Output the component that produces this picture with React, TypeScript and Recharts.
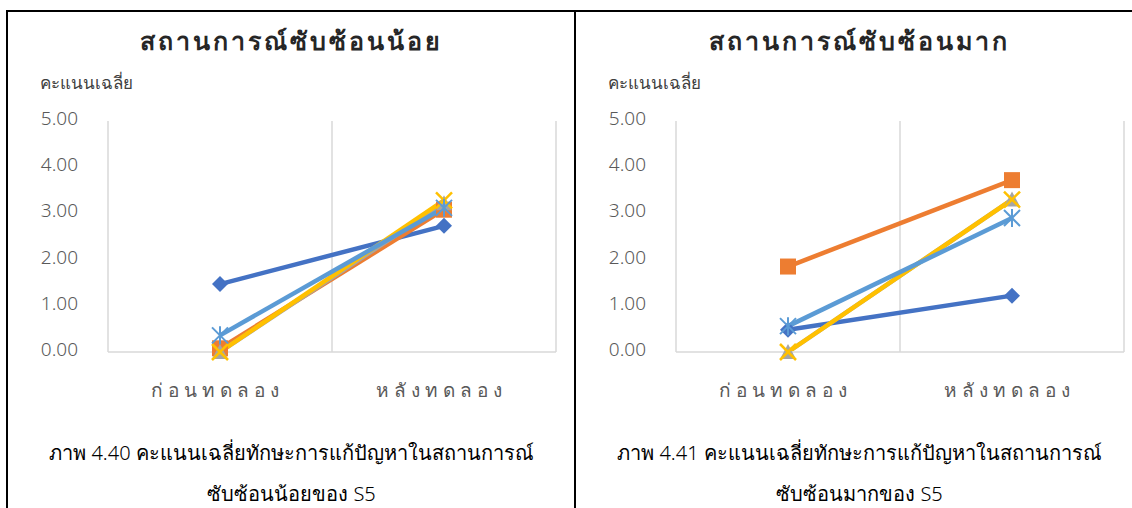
import { LineChart, Line, XAxis, YAxis, ReferenceLine } from 'recharts'

const categories = ['ก่อนทดลอง', 'หลังทดลอง']
const yTicks = [0, 1, 2, 3, 4, 5]

// สถานการณ์ซับซ้อนน้อย
const lowS1 = [1.47, 2.73]
const lowS2 = [0.08, 3.08]
const lowS3 = [0.0, 3.22]
const lowS4 = [0.0, 3.28]
const lowS5 = [0.36, 3.12]

// สถานการณ์ซับซ้อนมาก
const highS1 = [0.48, 1.22]
const highS2 = [1.85, 3.72]
const highS3 = [0.0, 3.3]
const highS4 = [0.0, 3.3]
const highS5 = [0.56, 2.9]

const colors = ['#4472C4', '#ED7D31', '#A5A5A5', '#FFC000', '#5B9BD5']
const shapes = ['diamond', 'square', 'triangle', 'x', 'star']

const FONT = "'Noto Sans', 'DejaVu Sans', sans-serif"

const Marker = ({ cx, cy, shape, color }: any) => {
  if (cx == null || cy == null) return null
  const r = 8
  if (shape === 'diamond')
    return <polygon points={`${cx},${cy - r} ${cx + r},${cy} ${cx},${cy + r} ${cx - r},${cy}`} fill={color} />
  if (shape === 'square')
    return <rect x={cx - r} y={cy - r} width={r * 2} height={r * 2} fill={color} />
  if (shape === 'triangle')
    return <polygon points={`${cx},${cy - r} ${cx + r},${cy + r - 1} ${cx - r},${cy + r - 1}`} fill={color} />
  if (shape === 'x')
    return (
      <g stroke={color} strokeWidth={2.5}>
        <line x1={cx - r} y1={cy - r} x2={cx + r} y2={cy + r} />
        <line x1={cx - r} y1={cy + r} x2={cx + r} y2={cy - r} />
      </g>
    )
  return (
    <g stroke={color} strokeWidth={2}>
      <line x1={cx - r} y1={cy - r} x2={cx + r} y2={cy + r} />
      <line x1={cx - r} y1={cy + r} x2={cx + r} y2={cy - r} />
      <line x1={cx} y1={cy - r - 1} x2={cx} y2={cy + r + 1} />
    </g>
  )
}

const XTick = ({ x, y, payload }: any) => (
  <text
    x={x - 3}
    y={y}
    dy={37}
    textAnchor="middle"
    fill="#595959"
    fontSize={19}
    fontWeight={300}
    fontFamily={FONT}
    letterSpacing={5}
  >
    {categories[Math.floor(payload.value)]}
  </text>
)

const YTick = ({ x, y, payload }: any) => (
  <text x={x} y={y} dy={4} textAnchor="end" fill="#595959" fontSize={19} fontWeight={300} fontFamily={FONT}>
    {payload.value.toFixed(2)}
  </text>
)

type TPanelProps = {
  left: number
  title: string
  caption1: string
  caption2: string
  series: number[][]
}

const Panel = ({ left, title, caption1, caption2, series }: TPanelProps) => {
  const data = categories.map((c, i) => {
    const row: any = { x: i + 0.5, name: c }
    series.forEach((s, k) => {
      row['s' + (k + 1)] = s[i]
    })
    return row
  })
  const gridXs = [0, ...categories.map((_, i) => i + 1)]

  return (
    <div style={{ position: 'absolute', left, top: 0, width: 566, height: 508, fontFamily: FONT }}>
      <LineChart
        width={566}
        height={508}
        data={data}
        margin={{ top: 121, right: 10, bottom: 116, left: 0 }}
      >
        <XAxis
          dataKey="x"
          type="number"
          domain={[0, categories.length]}
          ticks={data.map((d) => d.x)}
          height={40}
          tickLine={false}
          axisLine={{ stroke: '#D9D9D9', strokeWidth: 1.5 }}
          tick={<XTick />}
        />
        <YAxis
          domain={[0, 5]}
          ticks={yTicks}
          width={108}
          axisLine={false}
          tickLine={false}
          tickSize={0}
          tickMargin={30}
          tick={<YTick />}
        />
        {gridXs.map((gx) => (
          <ReferenceLine key={gx} x={gx} stroke="#D9D9D9" strokeWidth={1.5} />
        ))}
        {series.map((_, k) => (
          <Line
            key={k}
            dataKey={'s' + (k + 1)}
            stroke={colors[k]}
            strokeWidth={4.5}
            isAnimationActive={false}
            dot={(p: any) => <Marker key={p.index} cx={p.cx} cy={p.cy} shape={shapes[k]} color={colors[k]} />}
            activeDot={false}
          />
        ))}
      </LineChart>
      <div
        style={{
          position: 'absolute',
          left: 0,
          width: 583,
          top: 21,
          textAlign: 'center',
          fontSize: 25,
          fontWeight: 'bold',
          letterSpacing: 3,
          color: '#262626'
        }}
      >
        {title}
      </div>
      <div style={{ position: 'absolute', left: 40, top: 69, fontSize: 17, fontWeight: 300, color: '#404040' }}>
        คะแนนเฉลี่ย
      </div>
      <div
        style={{
          position: 'absolute',
          left: 0,
          width: 583,
          top: 432,
          textAlign: 'center',
          fontSize: 20,
          fontWeight: 300,
          lineHeight: '41px',
          color: '#000'
        }}
      >
        <div>{caption1}</div>
        <div>{caption2}</div>
      </div>
    </div>
  )
}

const App = () => (
  <div style={{ position: 'absolute', left: 0, top: 0, width: 1132, height: 508, background: '#fff' }}>
    <Panel
      left={0}
      title="สถานการณ์ซับซ้อนน้อย"
      caption1="ภาพ 4.40 คะแนนเฉลี่ยทักษะการแก้ปัญหาในสถานการณ์"
      caption2="ซับซ้อนน้อยของ S5"
      series={[lowS1, lowS2, lowS3, lowS4, lowS5]}
    />
    <Panel
      left={568}
      title="สถานการณ์ซับซ้อนมาก"
      caption1="ภาพ 4.41 คะแนนเฉลี่ยทักษะการแก้ปัญหาในสถานการณ์"
      caption2="ซับซ้อนมากของ S5"
      series={[highS1, highS2, highS3, highS4, highS5]}
    />
    <div style={{ position: 'absolute', left: 6, top: 10, width: 1126, height: 2, background: '#000' }} />
    <div style={{ position: 'absolute', left: 6, top: 10, width: 2, height: 498, background: '#000' }} />
    <div style={{ position: 'absolute', left: 574, top: 10, width: 2, height: 498, background: '#000' }} />
  </div>
)

export default App
